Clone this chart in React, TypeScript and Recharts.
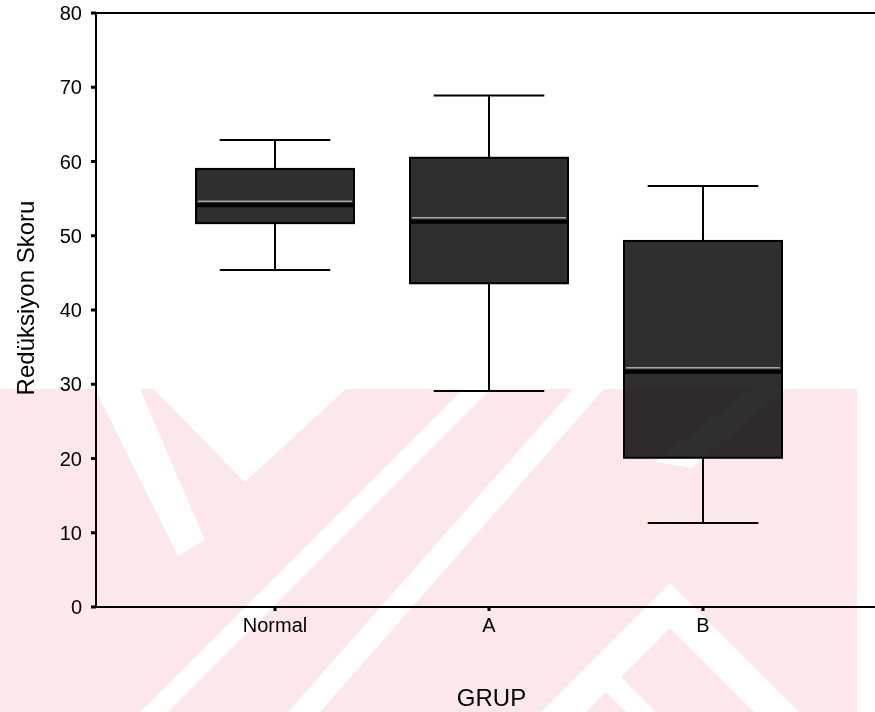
import React from 'react'
import { Bar, ComposedChart, ReferenceLine, XAxis, YAxis } from 'recharts'

// box plot values
const groups = ['Normal', 'A', 'B']
const minVals = [45.4, 29.1, 11.3]
const q1Vals = [51.7, 43.6, 20.1]
const medianVals = [54.1, 51.9, 31.7]
const q3Vals = [59.0, 60.5, 49.3]
const maxVals = [62.9, 68.9, 56.7]
const yTicks = [0, 10, 20, 30, 40, 50, 60, 70, 80]

const data = groups.map((g, i) => ({
    group: g,
    range: [minVals[i], maxVals[i]],
    min: minVals[i],
    q1: q1Vals[i],
    median: medianVals[i],
    q3: q3Vals[i],
    max: maxVals[i],
}))

const BoxShape = (props: any) => {
    const { x, y, width, height, payload } = props
    const top = Math.min(y, y + height)
    const h = Math.abs(height)
    const toY = (v: number) => top + ((payload.max - v) / (payload.max - payload.min)) * h
    const cx = x + width / 2
    const cap = width * 0.35
    return (
        <g>
            <line x1={cx} x2={cx} y1={toY(payload.max)} y2={toY(payload.q3)} stroke='#000' strokeWidth={2} />
            <line x1={cx} x2={cx} y1={toY(payload.q1)} y2={toY(payload.min)} stroke='#000' strokeWidth={2} />
            <line x1={cx - cap} x2={cx + cap} y1={toY(payload.max)} y2={toY(payload.max)} stroke='#000' strokeWidth={2} />
            <line x1={cx - cap} x2={cx + cap} y1={toY(payload.min)} y2={toY(payload.min)} stroke='#000' strokeWidth={2} />
            <rect x={x} y={toY(payload.q3)} width={width} height={toY(payload.q1) - toY(payload.q3)} fill='#2f2f2f' stroke='#000' strokeWidth={2} />
            <line x1={x + 2} x2={x + width - 2} y1={toY(payload.median) - 4} y2={toY(payload.median) - 4} stroke='#a8a8a8' strokeWidth={1.5} />
            <line x1={x} x2={x + width} y1={toY(payload.median)} y2={toY(payload.median)} stroke='#000' strokeWidth={4} />
        </g>
    )
}

// faint page watermark laid over the lower half of the scan
const Watermark = () => (
    <svg width={875} height={712} style={{ position: 'absolute', left: 0, top: 0, mixBlendMode: 'multiply', pointerEvents: 'none' }}>
        <rect x={0} y={389} width={857} height={323} fill='#fce7eb' />
        <g fill='#fff'>
            <polygon points='95,389 140,389 205,540 178,556' />
            <polygon points='153,389 346,389 245,482' />
            <polygon points='463,389 491,389 168,712 140,712' />
            <polygon points='573,389 604,389 320,712 288,712' />
            <polygon points='752,389 785,389 692,468 655,462' />
            <polygon points='670,583 799,712 754,712 670,628 586,712 541,712' />
            <polygon points='599,655 656,712 626,712 599,685 572,712 542,712' />
        </g>
    </svg>
)

const App = () => {
    return (
        <div style={{ position: 'absolute', left: 0, top: 0, width: 875, height: 712, background: '#fff' }}>
            <ComposedChart
                width={875}
                height={712}
                data={data}
                margin={{ top: 13, right: 0, bottom: 0, left: 0 }}
                style={{ fontFamily: '"Liberation Sans", Arial, sans-serif' }}
            >
                <XAxis
                    dataKey='group'
                    height={105}
                    padding={{ left: 72, right: 65 }}
                    axisLine={{ stroke: '#000', strokeWidth: 2 }}
                    tickLine={{ stroke: '#000', strokeWidth: 3 }}
                    tickSize={4}
                    tickMargin={7}
                    tick={{ fill: '#000', fontSize: 20 }}
                    label={{ value: 'GRUP', position: 'insideBottom', offset: 6, fill: '#000', fontSize: 24, dx: 6 }}
                />
                <YAxis
                    type='number'
                    domain={[0, 80]}
                    ticks={yTicks}
                    width={96}
                    axisLine={{ stroke: '#000', strokeWidth: 2 }}
                    tickLine={{ stroke: '#000', strokeWidth: 3 }}
                    tickSize={5}
                    tickMargin={9}
                    tick={{ fill: '#000', fontSize: 20 }}
                    label={{
                        content: () => (
                            <text x={25} y={298} transform='rotate(-90 25 298)' textAnchor='middle' dominantBaseline='central' fill='#000' fontSize={24}>
                                Redüksiyon Skoru
                            </text>
                        ),
                    }}
                />
                <ReferenceLine y={80} stroke='#000' strokeWidth={2} />
                <Bar dataKey='range' barSize={158} shape={<BoxShape />} isAnimationActive={false} />
            </ComposedChart>
            <Watermark />
        </div>
    )
}

export default App
